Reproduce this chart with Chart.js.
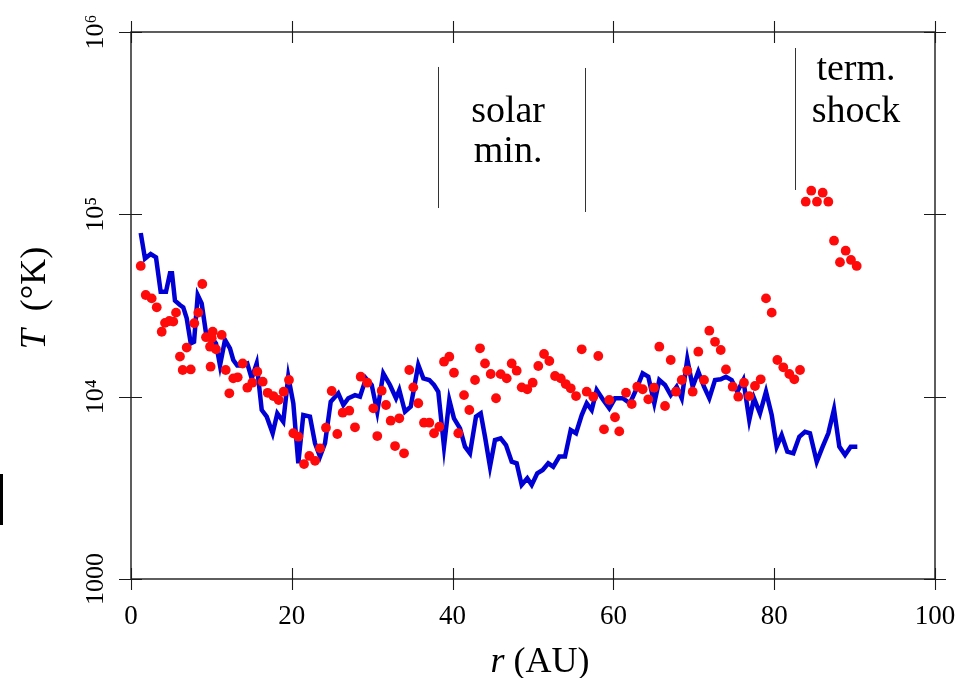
<!DOCTYPE html>
<html><head><meta charset="utf-8">
<script src="https://cdn.jsdelivr.net/npm/chart.js@4.4.1/dist/chart.umd.min.js"></script>
<style>html,body{margin:0;padding:0;background:#fff;} canvas{display:block;}</style>
</head><body>
<canvas id="c" width="972" height="678" style="width:972px;height:678px"></canvas>
<script>
// Blue line: model temperature vs distance
const rLine=[1.21,1.74,2.45,3.11,3.69,4.35,4.85,5.1,5.47,6.09,6.5,6.93,7.43,7.84,8.30,8.79,9.33,9.95,10.57,11.07,11.69,12.31,12.72,13.22,13.89,14.47,15.01,15.63,16.26,16.88,17.62,18.2,18.94,19.56,20.19,20.81,21.43,22.26,22.89,23.51,24.13,24.84,25.78,26.41,27.03,27.86,28.48,29.23,29.94,30.63,31.38,32.21,32.96,33.37,34.08,34.79,35.73,36.36,37.1,37.69,38.22,38.93,39.59,40.17,40.92,41.54,42.16,42.91,43.5,44.03,44.65,45.27,45.98,46.64,47.35,47.97,48.59,49.29,49.84,50.53,51.21,51.9,52.52,53.27,53.98,54.69,55.35,56.06,56.68,57.3,57.92,58.74,59.49,60.2,61.16,62.06,62.9,63.64,64.34,65.09,65.71,66.42,67.13,67.87,68.5,69.19,69.86,70.56,71.27,71.93,72.64,73.35,74.0,74.71,75.41,76.16,76.9,77.49,78.23,78.98,79.69,80.31,80.93,81.63,82.38,83.12,83.83,84.45,85.29,86.03,86.73,87.44,88.1,88.81,89.51,90.34];
const TLine=[79000,57200,60600,58100,37600,37600,47500,47500,33600,31800,30900,26900,19600,20000,36100,32500,22300,21300,19600,14800,20500,18400,15900,14800,14800,15200,12600,15200,8450,7770,6300,8100,7290,12870,9200,4310,7930,7770,5550,4690,5550,9380,10430,9000,9800,10200,10000,12600,11590,8270,13430,11590,9800,10880,8270,8810,14920,12600,12340,11590,10650,5320,9590,7610,6700,5320,4890,7770,8100,6030,4130,5780,5910,5430,4400,4310,3280,3570,3280,3800,3960,4310,4130,4690,4690,6560,6300,7930,9200,8450,10880,9590,8630,9800,9800,9200,11110,13430,12870,9200,12340,11590,10200,11340,9800,16030,11340,13710,11340,9800,12340,12450,12870,12340,10650,12340,7450,9800,8100,10650,7930,5320,6160,4990,4890,6030,6420,6300,4400,5320,6300,8520,5320,4790,5320,5320];
// Red dots: observed temperatures
const rDots=[1.21,1.83,2.57,3.2,3.82,4.23,4.77,5.26,5.6,6.09,6.43,6.93,7.43,7.87,8.37,8.87,9.33,9.83,9.9,10.04,10.16,10.57,11.28,11.78,12.23,12.72,13.27,13.89,14.47,15.09,15.71,16.38,17.0,17.7,18.37,18.99,19.65,20.19,20.81,21.52,22.18,22.89,23.51,24.25,24.96,25.66,26.33,27.15,27.86,28.57,29.39,30.14,30.63,31.18,31.72,32.3,32.84,33.37,33.96,34.61,35.11,35.73,36.44,37.1,37.69,38.35,38.93,39.59,40.17,40.71,41.42,42.08,42.79,43.41,44.03,44.74,45.4,45.98,46.73,47.35,47.97,48.59,49.29,49.96,50.66,51.37,52.03,52.74,53.45,54.07,54.69,55.35,56.06,56.68,57.5,58.12,58.83,59.49,60.2,60.73,61.57,62.28,62.97,63.64,64.34,65.05,65.71,66.42,67.13,67.79,68.5,69.19,69.86,70.56,71.27,71.93,72.64,73.35,74.0,74.84,75.53,76.24,76.9,77.61,78.32,78.98,79.69,80.39,81.13,81.88,82.5,83.21,83.92,84.61,85.32,86.03,86.73,87.44,88.18,88.89,89.55,90.26];
const TDots=[52100,36100,34600,30900,22700,25400,26000,25800,28900,16600,14000,18600,14100,25300,28900,41500,21200,18800,14600,20900,22700,18200,21800,14000,10430,12600,12770,15200,11200,11930,13710,12080,10500,10080,9590,10650,12340,6300,6030,4270,4730,4450,5210,6760,10740,6240,8170,8380,6790,12870,11930,8630,6080,10780,9000,7380,5360,7610,4890,14000,11250,9200,7200,7200,6300,6840,15550,16560,13530,6300,10200,8450,12340,18420,15200,13310,9800,13290,12600,15200,13880,11250,10980,11930,14730,17140,15690,12980,12600,11730,11110,10080,18190,10650,10000,16710,6620,9590,7710,6450,10510,9110,11340,10980,9670,11200,18790,8890,15890,10650,12340,13880,10650,17650,12340,23010,20000,18030,14100,11340,10000,11930,10080,11440,12450,34600,28900,15890,14490,13310,12450,14000,117300,134800,117300,131400,117300,71700,54600,63170,56200,52100];
const xTickValues=[0,20,40,60,80,100];
const yTickValues=[1000,10000,100000,1000000];
const yTickLabels=['1000','10\u2074','10\u2075','10\u2076'];
// Annotation markers (data coordinates)
const markR=[38.22,56.5,82.59];
const markTtop=[643000,634800,817000];
const markTbot=[108300,103000,136000];

const FONT='"Liberation Serif","Times New Roman",serif';

const frame={
  id:'frame',
  beforeDraw(c){const x=c.ctx;x.save();x.fillStyle='#fff';x.fillRect(0,0,c.width,c.height);x.restore();},
  afterDraw(c){
    const ctx=c.ctx,a=c.chartArea,xs=c.scales.x,ys=c.scales.y;
    ctx.save();
    ctx.strokeStyle='#1a1a1a';ctx.lineWidth=1.4;
    ctx.strokeRect(a.left,a.top,a.right-a.left,a.bottom-a.top);
    ctx.lineWidth=1.1;ctx.beginPath();
    xTickValues.forEach(v=>{const p=Math.round(xs.getPixelForValue(v))+0.5;
      ctx.moveTo(p,a.bottom-11);ctx.lineTo(p,a.bottom+11);
      ctx.moveTo(p,a.top-11);ctx.lineTo(p,a.top+11);});
    yTickValues.forEach(v=>{const p=Math.round(ys.getPixelForValue(v))+0.5;
      ctx.moveTo(a.left-12,p);ctx.lineTo(a.left+11,p);
      ctx.moveTo(a.right-11,p);ctx.lineTo(a.right+11,p);});
    ctx.stroke();
    // annotation lines
    ctx.strokeStyle='#333';ctx.lineWidth=1;ctx.beginPath();
    markR.forEach((r,i)=>{const p=Math.round(xs.getPixelForValue(r))+0.5;
      ctx.moveTo(p,ys.getPixelForValue(markTtop[i]));ctx.lineTo(p,ys.getPixelForValue(markTbot[i]));});
    ctx.stroke();
    // annotation text
    ctx.fillStyle='#000';ctx.font='38px '+FONT;ctx.textAlign='center';ctx.textBaseline='alphabetic';
    ctx.fillText('solar',xs.getPixelForValue(46.9),ys.getPixelForValue(321000));
    ctx.fillText('min.',xs.getPixelForValue(46.9),ys.getPixelForValue(193600));
    ctx.fillText('term.',xs.getPixelForValue(90.17),ys.getPixelForValue(545000));
    ctx.fillText('shock',xs.getPixelForValue(90.17),ys.getPixelForValue(321000));
    // x axis title
    ctx.textAlign='left';
    const it='italic 36px '+FONT, rg='36px '+FONT;
    ctx.font=it;const w1=ctx.measureText('r').width;
    ctx.font=rg;const w2=ctx.measureText(' (AU)').width;
    let sx=540-(w1+w2)/2;
    ctx.font=it;ctx.fillText('r',sx,672);
    ctx.font=rg;ctx.fillText(' (AU)',sx+w1,672);
    // y axis title
    ctx.save();ctx.translate(45,298);ctx.rotate(-Math.PI/2);
    ctx.font=it;const w3=ctx.measureText('T').width;
    ctx.font=rg;const w4=ctx.measureText('  (\u00B0K)').width;
    sx=-(w3+w4)/2;
    ctx.font=it;ctx.fillText('T',sx,0);
    ctx.font=rg;ctx.fillText('  (\u00B0K)',sx+w3,0);
    ctx.restore();
    // stray mark at left edge
    ctx.fillStyle='#000';ctx.fillRect(0,474,3,51);
    ctx.restore();
  }
};

new Chart(document.getElementById('c'),{
  type:'scatter',
  data:{datasets:[
    {label:'observed',data:rDots.map((r,i)=>({x:r,y:TDots[i]})),showLine:false,pointRadius:4.9,pointHoverRadius:4.9,
     backgroundColor:'#ff0a0a',borderWidth:0,order:0},
    {label:'model',data:rLine.map((r,i)=>({x:r,y:TLine[i]})),showLine:true,pointRadius:0,borderColor:'#0000d4',
     borderWidth:4.5,tension:0,fill:false,order:1}
  ]},
  options:{
    responsive:false,animation:false,devicePixelRatio:1,
    layout:{padding:{top:32,right:37,left:0,bottom:0}},
    plugins:{legend:{display:false},tooltip:{enabled:false}},
    scales:{
      x:{type:'linear',min:0,max:100,
        afterBuildTicks:s=>{s.ticks=xTickValues.map(v=>({value:v}));},
        afterFit:s=>{s.height=99;},
        grid:{display:false},border:{display:false},
        ticks:{font:{family:FONT,size:27},color:'#000',padding:14,maxRotation:0}},
      y:{type:'logarithmic',min:1000,max:1000000,
        afterBuildTicks:s=>{s.ticks=yTickValues.map(v=>({value:v}));},
        afterFit:s=>{s.width=131;},
        grid:{display:false},border:{display:false},
        ticks:{font:{family:FONT,size:26},color:'#000',padding:1,minRotation:90,maxRotation:90,crossAlign:'center',
          callback:(v)=>{const i=yTickValues.indexOf(v);return i>=0?yTickLabels[i]:'';}}}
    }
  },
  plugins:[frame]
});
</script>
</body></html>
